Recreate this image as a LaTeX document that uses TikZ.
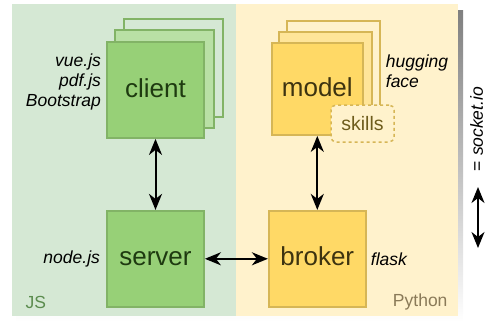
\documentclass[tikz,border=0pt]{standalone}
\usepackage{fontspec}
\setmainfont{Liberation Sans}
\usepackage{tikz}
\usetikzlibrary{positioning, arrows.meta, backgrounds}
\definecolor{jsback}{HTML}{D5E8D4}
\definecolor{jsmid}{HTML}{B9E0A5}
\definecolor{jsfront}{HTML}{97D077}
\definecolor{jsline}{HTML}{82B366}
\definecolor{jstext}{HTML}{1E3A10}
\definecolor{jslabel}{HTML}{5B8C4E}
\definecolor{pyback}{HTML}{FFF2CC}
\definecolor{pymid}{HTML}{FFE599}
\definecolor{pyfront}{HTML}{FFD966}
\definecolor{pyline}{HTML}{D6B656}
\definecolor{pytext}{HTML}{3D3310}
\definecolor{pylabel}{HTML}{8A7A58}
\definecolor{skilltext}{HTML}{6E5C1C}
\definecolor{shade}{HTML}{C4C4C4}
\tikzset{>={Stealth[length=16pt, width=13pt, inset=5pt]}, box/.style={rectangle, line width=1.8pt, minimum width=97pt, minimum height=96pt, inner sep=0pt, text height=19pt, text depth=5pt, font=\fontsize{26}{30}\selectfont}, jsbox/.style={box, draw=jsline, fill=jsfront, text=jstext}, pybox/.style={box, draw=pyline, fill=pyfront, text=pytext}, lib/.style={inner sep=0pt, font=\fontsize{17.5}{20}\selectfont\itshape}, link/.style={<->, line width=2pt}}

\begin{document}
\begin{tikzpicture}[x=1pt, y=-1pt]
	\useasboundingbox (0,0) rectangle (485,324);
	\node[jsbox] (client) at (155.5,90) {client};
	\node[jsbox, below=71pt of client] (server) {server};
	\node[pybox, right=63pt of server] (broker) {broker};
	\node[pybox, above=74pt of broker, minimum width=91pt, minimum height=92pt] (model) {model};
	\node[draw=pyline, fill=pyback, text=skilltext, dashed, line width=1.5pt, rounded corners=5pt, minimum width=63pt, minimum height=37pt, font=\fontsize{19.5}{22}\selectfont] (skills) at (362.5,123.5) {skills};
	\node[lib, left=5pt of client, yshift=8pt, align=right] (clientlibs) {vue.js\\pdf.js\\Bootstrap};
	\node[lib, left=6pt of server] (serverlib) {node.js};
	\node[lib, right=4pt of broker] (brokerlib) {flask};
	\node[lib, right=22pt of model, yshift=18pt, align=left] (modellib) {hugging\\face};
	\node[text=jslabel, font=\fontsize{17.5}{20}\selectfont, anchor=west] (js) at (22,302) {JS};
	\node[text=pylabel, font=\fontsize{17.5}{20}\selectfont, anchor=east] (python) at (451,302) {Python};
	\node[rotate=90, inner sep=0pt, font=\fontsize{17.5}{20}\selectfont] (socket) at (476.5,129) {= \textit{socket.io}};
	\coordinate (sockettop) at (478,187);
	\coordinate (socketbottom) at (478,248);
	\draw[link] (client) -- (server);
	\draw[link] (server) -- (broker);
	\draw[link] (model) -- (broker);
	\draw[link] (sockettop) -- (socketbottom);
	\begin{pgfonlayer}{background}
		\fill[shade] (16,10) rectangle (463,322);
		\fill[jsback] (12,4) rectangle (236,316);
		\fill[pyback] (236,4) rectangle (458,316);
		% stacked copies behind the front boxes
		\foreach \d/\c in {2/jsback, 1/jsmid}
			\draw[line width=1.8pt, draw=jsline, fill=\c] ([shift={(9pt*\d,11pt*\d)}]client.south west) rectangle ([shift={(9pt*\d,11pt*\d)}]client.north east);
		\foreach \d/\c in {2/pyback, 1/pymid}
			\draw[line width=1.8pt, draw=pyline, fill=\c] ([shift={(8pt*\d,10.5pt*\d)}]model.south west) rectangle ([shift={(8pt*\d,10.5pt*\d)}]model.north east);
	\end{pgfonlayer}
\end{tikzpicture}
\end{document}
